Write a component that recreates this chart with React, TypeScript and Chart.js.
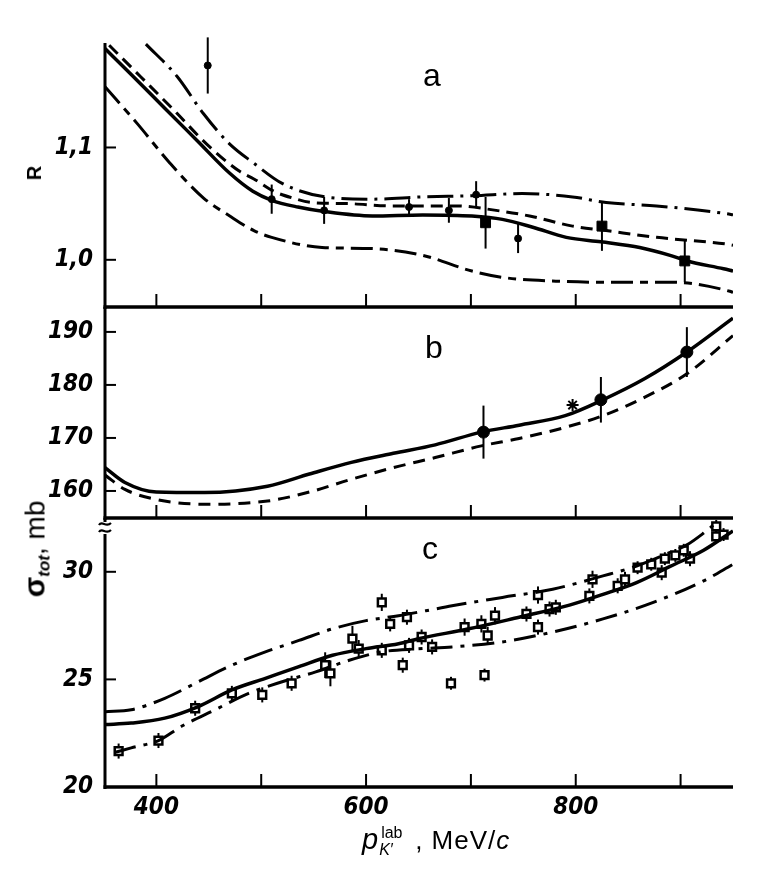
import React, { useEffect, useRef } from 'react';
import { Chart, registerables } from 'chart.js';

Chart.register(...registerables);

// ---------- shared x axis ----------
const X_MIN = 351;
const X_MAX = 950;
const X_MINOR_TICKS = [400, 500, 600, 700, 800, 900];
const X_LABEL_TICKS = [400, 600, 800];

// ---------- panel a : R ----------
const A_Y_TICKS = [1.0, 1.1];
const A_SOLID_P = [351, 376, 408, 439, 470, 492, 510, 535, 560, 606, 654, 701, 730, 759, 791, 824, 861, 890, 906, 941, 950];
const A_SOLID_R = [1.188, 1.165, 1.135, 1.106, 1.077, 1.061, 1.053, 1.047, 1.043, 1.039, 1.040, 1.039, 1.036, 1.029, 1.020, 1.016, 1.011, 1.004, 0.999, 0.992, 0.990];
const A_DASH_P = [355, 385, 417, 448, 479, 493, 512, 530, 548, 584, 622, 686, 724, 756, 797, 829, 877, 944, 950];
const A_DASH_R = [1.191, 1.163, 1.133, 1.103, 1.079, 1.072, 1.061, 1.055, 1.051, 1.050, 1.048, 1.048, 1.044, 1.039, 1.030, 1.026, 1.020, 1.014, 1.013];
const A_DDUP_P = [390, 420, 445, 470, 493, 520, 561, 606, 654, 702, 749, 797, 829, 877, 944, 950];
const A_DDUP_R = [1.192, 1.163, 1.130, 1.103, 1.086, 1.068, 1.056, 1.054, 1.056, 1.057, 1.059, 1.056, 1.051, 1.048, 1.041, 1.040];
const A_DDLO_P = [351, 382, 413, 445, 470, 493, 510, 558, 606, 654, 701, 733, 781, 829, 893, 947, 950];
const A_DDLO_R = [1.154, 1.121, 1.086, 1.055, 1.039, 1.026, 1.020, 1.011, 1.010, 1.004, 0.990, 0.984, 0.981, 0.980, 0.980, 0.972, 0.971];
const A_DOT_P = [449, 510, 560, 641, 679, 705, 745];
const A_DOT_R = [1.173, 1.054, 1.044, 1.047, 1.044, 1.058, 1.019];
const A_DOT_ERR = [0.025, 0.013, 0.012, 0.007, 0.011, 0.012, 0.013];
const A_SQ_P = [714, 825, 904];
const A_SQ_R = [1.033, 1.030, 0.999];
const A_SQ_ERR = [0.023, 0.022, 0.019];

// ---------- panel b : sigma_tot ----------
const B_Y_TICKS = [160, 170, 180, 190];
const B_SOLID_P = [351, 370, 400, 446, 506, 546, 586, 626, 666, 710, 746, 790, 826, 866, 906, 950];
const B_SOLID_V = [164.4, 161.6, 159.8, 159.7, 160.9, 163.2, 165.4, 167.1, 168.7, 171.1, 172.4, 174.2, 177.2, 181.2, 186.2, 192.6];
const B_DASH_P = [351, 370, 400, 446, 506, 546, 586, 626, 666, 710, 746, 790, 826, 866, 906, 950];
const B_DASH_V = [163.0, 160.3, 158.4, 157.5, 158.1, 159.8, 162.2, 164.4, 166.3, 168.5, 169.9, 172.0, 174.2, 177.7, 182.1, 189.3];
const B_DOT_P = [712, 824, 906];
const B_DOT_V = [171.1, 177.2, 186.2];
const B_DOT_ERR = [5.0, 4.3, 4.7];
const B_STAR_P = [797];
const B_STAR_V = [176.2];

// ---------- panel c : sigma_tot ----------
const C_Y_TICKS = [20, 25, 30];
const C_SOLID_P = [351, 376, 408, 440, 472, 504, 536, 568, 600, 631, 650, 698, 746, 794, 826, 858, 890, 922, 950];
const C_SOLID_V = [22.9, 22.97, 23.2, 23.74, 24.51, 25.05, 25.59, 26.12, 26.43, 26.66, 26.89, 27.35, 27.89, 28.45, 28.95, 29.5, 30.25, 31.0, 31.9];
const C_UP_P = [351, 376, 408, 440, 472, 504, 536, 568, 600, 631, 657, 682, 730, 778, 826, 858, 890, 906, 922, 932];
const C_UP_V = [23.5, 23.59, 24.12, 24.89, 25.66, 26.28, 26.81, 27.35, 27.73, 27.96, 28.19, 28.42, 28.81, 29.19, 29.81, 30.27, 30.9, 31.25, 31.8, 32.2];
const C_LO_P = [360, 376, 402, 424, 456, 488, 520, 552, 584, 615, 650, 682, 730, 778, 826, 874, 922, 950];
const C_LO_V = [21.6, 21.82, 22.16, 22.82, 23.59, 24.35, 24.89, 25.35, 25.89, 26.28, 26.42, 26.51, 26.74, 27.2, 27.81, 28.58, 29.58, 30.35];
const C_SQ_P = [364, 402, 437, 472, 501, 529, 561, 566, 587, 593, 615, 623, 639, 615, 635, 641, 653, 663, 681, 713, 694, 710, 716, 723, 753, 764, 764, 775, 781, 813, 816, 840, 847, 859, 872, 882, 885, 895, 903, 909, 934, 934, 941];
const C_SQ_V = [21.67, 22.16, 23.66, 24.35, 24.28, 24.82, 25.66, 25.28, 26.89, 26.43, 28.58, 27.58, 27.89, 26.35, 25.66, 26.58, 26.97, 26.51, 24.82, 25.2, 27.43, 27.58, 27.04, 27.96, 28.04, 27.43, 28.92, 28.27, 28.35, 28.88, 29.65, 29.35, 29.65, 30.19, 30.35, 29.96, 30.61, 30.76, 31.0, 30.61, 32.11, 31.65, 31.73];
const C_SQ_ERR = [0.35, 0.35, 0.35, 0.35, 0.35, 0.35, 0.6, 0.6, 0.6, 0.4, 0.4, 0.35, 0.35, 0.35, 0.35, 0.35, 0.35, 0.35, 0.3, 0.3, 0.4, 0.4, 0.4, 0.4, 0.35, 0.35, 0.4, 0.35, 0.35, 0.35, 0.4, 0.35, 0.35, 0.3, 0.3, 0.35, 0.3, 0.3, 0.3, 0.35, 0.3, 0.3, 0.3];

const NUM_FONT = {
  family: "'DejaVu Sans Condensed','Liberation Sans Narrow','DejaVu Sans',sans-serif",
  size: 24,
  weight: 'bold' as const,
  style: 'italic' as const,
};
const SANS = "'Liberation Sans', Arial, Helvetica, sans-serif";

const pts = (xs: number[], ys: number[]) => xs.map((x, i) => ({ x, y: ys[i] }));

const curve = (xs: number[], ys: number[], dash: number[], width = 3) => ({
  data: pts(xs, ys),
  showLine: true,
  borderColor: '#000',
  borderWidth: width,
  borderDash: dash,
  pointRadius: 0,
  cubicInterpolationMode: 'monotone' as const,
  fill: false,
});

const marks = (xs: number[], ys: number[], errs: number[] | null, style: string, radius: number, fill: string, bw: number) => ({
  data: pts(xs, ys),
  showLine: false,
  pointStyle: style,
  pointRadius: radius,
  pointBackgroundColor: fill,
  pointBorderColor: '#000',
  pointBorderWidth: bw,
  errorBars: errs,
});

const errorBarPlugin = {
  id: 'errorBars',
  beforeDatasetsDraw(chart: any) {
    const { ctx } = chart;
    const y = chart.scales.y;
    ctx.save();
    ctx.strokeStyle = '#000';
    ctx.lineWidth = 2;
    chart.data.datasets.forEach((ds: any, i: number) => {
      if (!ds.errorBars) return;
      const meta = chart.getDatasetMeta(i);
      meta.data.forEach((el: any, j: number) => {
        const e = ds.errorBars[j];
        const v = ds.data[j].y;
        ctx.beginPath();
        ctx.moveTo(el.x, y.getPixelForValue(v + e));
        ctx.lineTo(el.x, y.getPixelForValue(v - e));
        ctx.stroke();
      });
    });
    ctx.restore();
  },
};

const framePlugin = (yTicks: number[], breakMark: boolean) => ({
  id: 'frame',
  afterDraw(chart: any) {
    const { ctx, chartArea: a } = chart;
    const x = chart.scales.x;
    const y = chart.scales.y;
    const line = (x1: number, y1: number, x2: number, y2: number) => {
      ctx.beginPath();
      ctx.moveTo(x1, y1);
      ctx.lineTo(x2, y2);
      ctx.stroke();
    };
    ctx.save();
    ctx.strokeStyle = '#000';
    ctx.lineWidth = 3;
    line(a.left, a.top, a.left, a.bottom + 2);
    ctx.lineWidth = 3.5;
    line(a.left - 1.5, a.bottom, a.right, a.bottom);
    ctx.lineWidth = 2;
    X_MINOR_TICKS.forEach((v) => {
      const px = x.getPixelForValue(v);
      line(px, a.bottom, px, a.bottom - 13);
    });
    yTicks.forEach((v) => {
      const py = y.getPixelForValue(v);
      line(a.left, py, a.left + 11, py);
    });
    if (breakMark) {
      ctx.fillStyle = '#fff';
      ctx.fillRect(a.left - 6, a.top + 4, 12, 12);
      ctx.lineWidth = 2.2;
      [a.top + 6, a.top + 13].forEach((yy) => {
        ctx.beginPath();
        ctx.moveTo(a.left - 6, yy + 1);
        ctx.bezierCurveTo(a.left - 3, yy - 4, a.left + 1, yy + 4, a.left + 6, yy - 1);
        ctx.stroke();
      });
    }
    ctx.restore();
  },
});

function makeOptions(yMin: number, yMax: number, yTicks: number[], fmt: (v: number) => string, showX: boolean, padding: any) {
  return {
    responsive: false,
    animation: false as const,
    devicePixelRatio: 1,
    layout: { padding },
    plugins: { legend: { display: false }, tooltip: { enabled: false } },
    scales: {
      x: {
        type: 'linear' as const,
        min: X_MIN,
        max: X_MAX,
        display: showX,
        grid: { display: false, drawTicks: false },
        border: { display: false },
        ticks: { font: NUM_FONT, color: '#000', padding: 6, autoSkip: false, maxRotation: 0, callback: (v: any) => String(v) },
        afterBuildTicks: (s: any) => {
          s.ticks = X_LABEL_TICKS.map((v) => ({ value: v }));
        },
        afterFit: (s: any) => {
          s.height = showX ? 40 : 0;
        },
      },
      y: {
        type: 'linear' as const,
        min: yMin,
        max: yMax,
        grid: { display: false, drawTicks: false },
        border: { display: false },
        ticks: { font: NUM_FONT, color: '#000', padding: 12, autoSkip: false, callback: (v: any) => fmt(Number(v)) },
        afterBuildTicks: (s: any) => {
          s.ticks = yTicks.map((v) => ({ value: v }));
        },
        afterFit: (s: any) => {
          s.width = 105;
        },
      },
    },
  };
}

// panel geometry (chart-area top/bottom in page pixels)
const A_TOP = 43, A_BOTTOM = 307;
const B_TOP = 307, B_BOTTOM = 518;
const C_TOP = 518, C_BOTTOM = 787;
const PAD = 40;

export default function App() {
  const refA = useRef<HTMLCanvasElement | null>(null);
  const refB = useRef<HTMLCanvasElement | null>(null);
  const refC = useRef<HTMLCanvasElement | null>(null);

  useEffect(() => {
    const charts: Chart[] = [];
    const pad = (top: number, bottom: number) => ({ top, bottom, left: 0, right: 35 });

    charts.push(
      new Chart(refA.current as HTMLCanvasElement, {
        type: 'scatter',
        data: {
          datasets: [
            curve(A_SOLID_P, A_SOLID_R, [], 3.5),
            curve(A_DASH_P, A_DASH_R, [12, 7]),
            curve(A_DDUP_P, A_DDUP_R, [26, 7, 3, 7]),
            curve(A_DDLO_P, A_DDLO_R, [22, 7, 8, 7]),
            marks(A_DOT_P, A_DOT_R, A_DOT_ERR, 'circle', 3.5, '#000', 1),
            marks(A_SQ_P, A_SQ_R, A_SQ_ERR, 'rect', 7, '#000', 1),
          ] as any,
        },
        options: makeOptions(0.958, 1.193, A_Y_TICKS, (v) => v.toFixed(1).replace('.', ','), false, pad(A_TOP, PAD)) as any,
        plugins: [errorBarPlugin, framePlugin(A_Y_TICKS, false)],
      })
    );

    charts.push(
      new Chart(refB.current as HTMLCanvasElement, {
        type: 'scatter',
        data: {
          datasets: [
            curve(B_SOLID_P, B_SOLID_V, [], 3.5),
            curve(B_DASH_P, B_DASH_V, [12, 8]),
            marks(B_DOT_P, B_DOT_V, B_DOT_ERR, 'circle', 6, '#000', 1),
            marks(B_STAR_P, B_STAR_V, null, 'star', 6, '#000', 2),
          ] as any,
        },
        options: makeOptions(154.9, 194.7, B_Y_TICKS, (v) => String(v), false, pad(PAD, PAD)) as any,
        plugins: [errorBarPlugin, framePlugin(B_Y_TICKS, false)],
      })
    );

    charts.push(
      new Chart(refC.current as HTMLCanvasElement, {
        type: 'scatter',
        data: {
          datasets: [
            curve(C_SOLID_P, C_SOLID_V, [], 3.5),
            curve(C_UP_P, C_UP_V, [30, 8, 4, 8]),
            curve(C_LO_P, C_LO_V, [22, 8, 4, 8]),
            marks(C_SQ_P, C_SQ_V, C_SQ_ERR, 'rect', 5.5, '#fff', 2.5),
          ] as any,
        },
        options: makeOptions(20, 32.5, C_Y_TICKS, (v) => String(v), true, pad(PAD, 886 - C_BOTTOM - 40)) as any,
        plugins: [errorBarPlugin, framePlugin(C_Y_TICKS, true)],
      })
    );

    return () => charts.forEach((c) => c.destroy());
  }, []);

  const canvasStyle = (top: number, height: number): React.CSSProperties => ({
    position: 'absolute',
    left: 0,
    top,
    width: 768,
    height,
  });

  const letter = (text: string, left: number, top: number) => (
    <div style={{ position: 'absolute', left, top, fontFamily: SANS, fontSize: 32, lineHeight: '32px', color: '#000' }}>{text}</div>
  );

  const hA = A_BOTTOM + PAD;
  const topB = B_TOP - PAD, hB = B_BOTTOM - B_TOP + 2 * PAD;
  const topC = C_TOP - PAD, hC = 886 - topC;

  return (
    <div style={{ position: 'absolute', left: 0, top: 0, width: 768, height: 886, background: '#fff', overflow: 'hidden' }}>
      <canvas ref={refA} width={768} height={hA} style={canvasStyle(0, hA)} />
      <canvas ref={refB} width={768} height={hB} style={canvasStyle(topB, hB)} />
      <canvas ref={refC} width={768} height={hC} style={canvasStyle(topC, hC)} />

      {letter('a', 423, 59)}
      {letter('b', 425, 331)}
      {letter('c', 422, 532)}

      <div
        style={{
          position: 'absolute',
          left: 34,
          top: 173,
          transform: 'translate(-50%, -50%) rotate(-90deg)',
          fontFamily: SANS,
          fontWeight: 'bold',
          fontSize: 20,
          lineHeight: '20px',
          whiteSpace: 'nowrap',
        }}
      >
        R
      </div>

      <div
        style={{
          position: 'absolute',
          left: 37,
          top: 549,
          transform: 'translate(-50%, -50%) rotate(-90deg)',
          fontFamily: SANS,
          lineHeight: '32px',
          whiteSpace: 'nowrap',
        }}
      >
        <span style={{ fontWeight: 'bold', fontSize: 30 }}>σ</span>
        <span style={{ fontWeight: 'bold', fontStyle: 'italic', fontSize: 17, position: 'relative', top: 5 }}>tot</span>
        <span style={{ fontSize: 28 }}>, mb</span>
      </div>

      <div
        style={{
          position: 'absolute',
          left: 362,
          top: 821,
          fontFamily: SANS,
          fontSize: 26,
          lineHeight: '36px',
          whiteSpace: 'nowrap',
          letterSpacing: 1,
        }}
      >
        <span style={{ fontStyle: 'italic', fontSize: 29 }}>p</span>
        <span style={{ display: 'inline-block', position: 'relative', width: 36, height: 30, verticalAlign: 'top', letterSpacing: 0 }}>
          <span style={{ position: 'absolute', left: 2, top: 3, fontSize: 16, lineHeight: 'normal' }}>lab</span>
          <span style={{ position: 'absolute', left: 0, top: 20, fontSize: 16, fontStyle: 'italic', lineHeight: 'normal' }}>K′</span>
        </span>
        <span>, MeV/</span>
        <span style={{ fontStyle: 'italic' }}>c</span>
      </div>
    </div>
  );
}
